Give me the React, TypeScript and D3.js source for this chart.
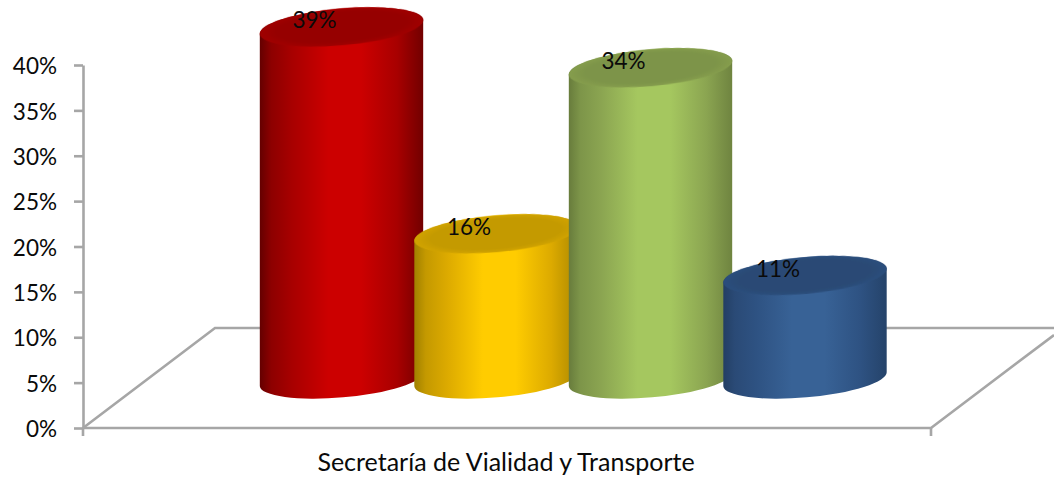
import React, { useRef, useEffect } from 'react';
import * as d3 from 'd3';

const categories = ['Rojo', 'Amarillo', 'Verde', 'Azul'];
const seriesValues = [0.388, 0.16, 0.343, 0.114];
const yTicks = [0, 0.05, 0.1, 0.15, 0.2, 0.25, 0.3, 0.35, 0.4];
const axisLabel = 'Secretaría de Vialidad y Transporte';

// [edge, shoulder, centre, cap]
const palettes = [
  ['#640000', '#a80000', '#cc0000', '#960000'],
  ['#a08000', '#dcaa00', '#ffcc00', '#c49a00'],
  ['#687c3c', '#8ba551', '#a5c75f', '#7d9449'],
  ['#233f64', '#2e5282', '#386296', '#2a4a74'],
];

const W = 1054;
const H = 483;
const RX = 82;
const RY = 18.4;
const TILT = -5;
const FLOOR_LIFT = 49;

const App = () => {
  const svgRef = useRef<SVGSVGElement>(null);

  useEffect(() => {
    const svg = d3.select(svgRef.current);
    svg.selectAll('*').remove();

    const font = 'Lato, Carlito, sans-serif';
    const gray = '#a6a6a6';

    const y = d3.scaleLinear().domain([0, 0.4]).range([428, 65]);
    const x = d3.scalePoint().domain(categories).range([341.5, 805]);
    const pct = d3.format('.0%');

    // floor of the 3d plot
    const floor = svg.append('g').attr('fill', 'none').attr('stroke', gray).attr('stroke-width', 2.6);
    floor.append('path').attr('d', 'M83,428 L215,328 L1054,328');
    floor.append('path').attr('d', 'M83,428 L931,428 L1054,335');
    floor.append('path').attr('d', 'M931,428 L931,436 M83,428 L83,436');

    // value axis
    const axis = svg.append('g')
      .attr('transform', 'translate(83,0)')
      .call(d3.axisLeft(y).tickValues(yTicks).tickFormat(pct).tickSize(9).tickSizeOuter(0).tickPadding(17));
    axis.selectAll('path,line').attr('stroke', gray).attr('stroke-width', 2.6);
    axis.selectAll('text')
      .attr('font-family', font)
      .attr('font-size', 22.5)
      .attr('fill', '#0a0a0a')
      .attr('transform', 'translate(0,1.5)');

    // gradients for the sides and the caps
    const defs = svg.append('defs');
    palettes.forEach((p, i) => {
      const g = defs.append('linearGradient').attr('id', `side${i}`);
      const stops: [number, string][] = [
        [0, p[0]],
        [0.07, d3.interpolateRgb(p[0], p[1])(0.6)],
        [0.2, p[1]],
        [0.42, p[2]],
        [0.62, p[2]],
        [0.84, p[1]],
        [1, d3.interpolateRgb(p[0], p[1])(0.2)],
      ];
      stops.forEach(([o, c]) => g.append('stop').attr('offset', o).attr('stop-color', c));

      const r = defs.append('radialGradient').attr('id', `cap${i}`);
      r.append('stop').attr('offset', 0.8).attr('stop-color', p[3]);
      r.append('stop').attr('offset', 1).attr('stop-color', d3.interpolateRgb(p[3], p[1])(0.55));
    });
    defs.append('filter').attr('id', 'soft')
      .append('feGaussianBlur').attr('stdDeviation', 0.7);

    // cylinders, left one first so the next overlaps it
    const dx = RX * Math.cos((TILT * Math.PI) / 180);
    const dy = RX * Math.sin((TILT * Math.PI) / 180);
    categories.forEach((c, i) => {
      const cx = x(c) as number;
      const baseY = y(0) - FLOOR_LIFT;
      const topY = y(seriesValues[i]) - FLOOR_LIFT;
      const arc = `A${RX},${RY} ${TILT} 0 0`;
      const g = svg.append('g');
      g.append('path')
        .attr('fill', `url(#side${i})`)
        .attr('d', `M${cx - dx},${topY - dy} L${cx - dx},${baseY - dy} ${arc} ${cx + dx},${baseY + dy} L${cx + dx},${topY + dy} ${arc} ${cx - dx},${topY - dy} Z`);
      g.append('ellipse')
        .attr('cx', cx).attr('cy', topY).attr('rx', RX).attr('ry', RY)
        .attr('transform', `rotate(${TILT} ${cx} ${topY})`)
        .attr('filter', 'url(#soft)')
        .attr('fill', `url(#cap${i})`);
    });

    // data labels
    categories.forEach((c, i) => {
      svg.append('text')
        .attr('x', (x(c) as number) - 27)
        .attr('y', y(seriesValues[i]) - FLOOR_LIFT + 1)
        .attr('text-anchor', 'middle')
        .attr('font-family', font)
        .attr('font-size', 22.5)
        .attr('fill', '#0a0a0a')
        .text(pct(seriesValues[i]));
    });

    svg.append('text')
      .attr('x', 506)
      .attr('y', 471)
      .attr('text-anchor', 'middle')
      .attr('font-family', font)
      .attr('font-size', 25)
      .attr('fill', '#0a0a0a')
      .text(axisLabel);
  }, []);

  return (
    <svg ref={svgRef} width={W} height={H}
      style={{ position: 'absolute', left: 0, top: 0, background: '#fff' }} />
  );
};

export default App;
